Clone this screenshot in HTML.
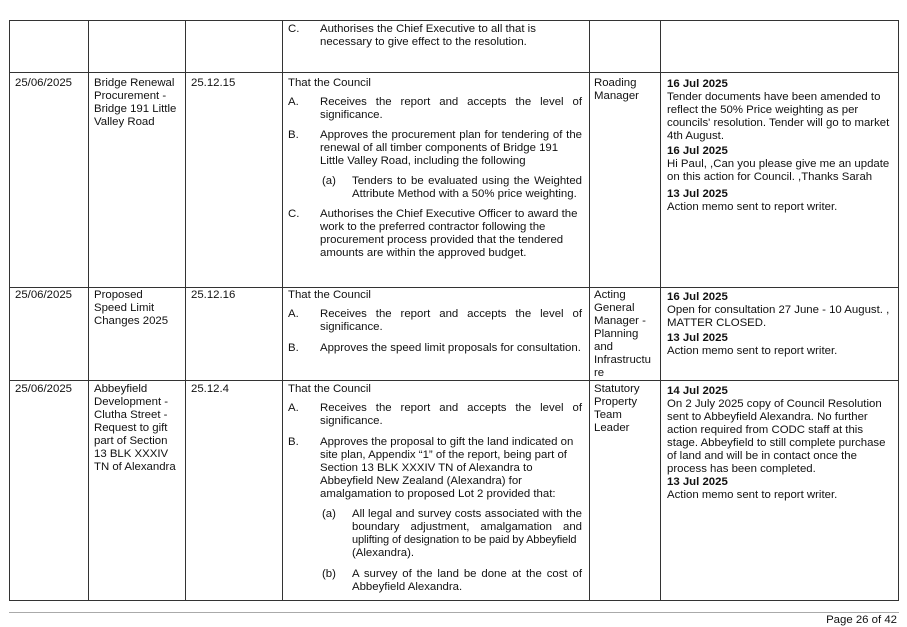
<!DOCTYPE html>
<html><head><meta charset="utf-8"><style>
body{margin:0;width:907px;height:626px;background:#fff;position:relative;overflow:hidden;font-family:"Liberation Sans",Arial,sans-serif;font-size:11.4px;color:#111}
.l{position:absolute;height:1px;background:#333}
.v{position:absolute;width:1px;background:#333}
.t{position:absolute;line-height:13px;white-space:nowrap}
.j{position:absolute;line-height:13px;height:13px;text-align:justify;text-align-last:justify;white-space:normal}
b{font-weight:bold}
</style></head><body>
<div class="l" style="left:9px;top:20px;width:890px"></div>
<div class="l" style="left:9px;top:72px;width:890px"></div>
<div class="l" style="left:9px;top:287px;width:890px"></div>
<div class="l" style="left:9px;top:380px;width:890px"></div>
<div class="l" style="left:9px;top:600px;width:890px"></div>
<div class="v" style="left:9px;top:20px;height:581px"></div>
<div class="v" style="left:88px;top:20px;height:581px"></div>
<div class="v" style="left:185px;top:20px;height:581px"></div>
<div class="v" style="left:282px;top:20px;height:581px"></div>
<div class="v" style="left:589px;top:20px;height:581px"></div>
<div class="v" style="left:660px;top:20px;height:581px"></div>
<div class="v" style="left:898px;top:20px;height:581px"></div>
<div class="l" style="left:9px;top:612px;width:890px;background:#aaa"></div>
<div class="t" style="right:10px;top:614px">Page 26 of 42</div>

<div class="t" style="left:288px;top:23px">C.</div>
<div class="t" style="left:320px;top:23px">Authorises the Chief Executive to all that is<br>necessary to give effect to the resolution.</div>

<div class="t" style="left:15px;top:77px">25/06/2025</div>
<div class="t" style="left:94px;top:77px">Bridge Renewal<br>Procurement -<br>Bridge 191 Little<br>Valley Road</div>
<div class="t" style="left:191px;top:77px">25.12.15</div>
<div class="t" style="left:288px;top:77px">That the Council</div>
<div class="t" style="left:288px;top:96px">A.</div>
<div class="j" style="left:320px;top:96px;width:262px">Receives the report and accepts the level of</div>
<div class="t" style="left:320px;top:109px">significance.</div>
<div class="t" style="left:288px;top:129px">B.</div>
<div class="j" style="left:320px;top:129px;width:262px">Approves the procurement plan for tendering of the</div>
<div class="t" style="left:320px;top:142px">renewal of all timber components of Bridge 191<br>Little Valley Road, including the following</div>
<div class="t" style="left:322px;top:175px">(a)</div>
<div class="j" style="left:352px;top:175px;width:230px">Tenders to be evaluated using the Weighted</div>
<div class="t" style="left:352px;top:188px">Attribute Method with a 50% price weighting.</div>
<div class="t" style="left:288px;top:208px">C.</div>
<div class="t" style="left:320px;top:208px">Authorises the Chief Executive Officer to award the<br>work to the preferred contractor following the<br>procurement process provided that the tendered<br>amounts are within the approved budget.</div>
<div class="t" style="left:594px;top:77px">Roading<br>Manager</div>
<div class="t" style="left:667px;top:78px"><b>16 Jul 2025</b><br>Tender documents have been amended to<br>reflect the 50% Price weighting as per<br>councils' resolution. Tender will go to market<br>4th August.</div>
<div class="t" style="left:667px;top:145px"><b>16 Jul 2025</b><br>Hi Paul, ,Can you please give me an update<br>on this action for Council. ,Thanks Sarah</div>
<div class="t" style="left:667px;top:188px"><b>13 Jul 2025</b><br>Action memo sent to report writer.</div>

<div class="t" style="left:15px;top:289px">25/06/2025</div>
<div class="t" style="left:94px;top:289px">Proposed<br>Speed Limit<br>Changes 2025</div>
<div class="t" style="left:191px;top:289px">25.12.16</div>
<div class="t" style="left:288px;top:289px">That the Council</div>
<div class="t" style="left:288px;top:308px">A.</div>
<div class="j" style="left:320px;top:308px;width:262px">Receives the report and accepts the level of</div>
<div class="t" style="left:320px;top:321px">significance.</div>
<div class="t" style="left:288px;top:342px">B.</div>
<div class="t" style="left:320px;top:342px">Approves the speed limit proposals for consultation.</div>
<div class="t" style="left:594px;top:289px">Acting<br>General<br>Manager -<br>Planning<br>and<br>Infrastructu<br>re</div>
<div class="t" style="left:667px;top:291px"><b>16 Jul 2025</b><br>Open for consultation 27 June - 10 August. ,<br>MATTER CLOSED.</div>
<div class="t" style="left:667px;top:332px"><b>13 Jul 2025</b><br>Action memo sent to report writer.</div>

<div class="t" style="left:15px;top:383px">25/06/2025</div>
<div class="t" style="left:94px;top:383px">Abbeyfield<br>Development -<br>Clutha Street -<br>Request to gift<br>part of Section<br>13 BLK XXXIV<br>TN of Alexandra</div>
<div class="t" style="left:191px;top:383px">25.12.4</div>
<div class="t" style="left:288px;top:383px">That the Council</div>
<div class="t" style="left:288px;top:402px">A.</div>
<div class="j" style="left:320px;top:402px;width:262px">Receives the report and accepts the level of</div>
<div class="t" style="left:320px;top:415px">significance.</div>
<div class="t" style="left:288px;top:436px">B.</div>
<div class="t" style="left:320px;top:436px">Approves the proposal to gift the land indicated on<br>site plan, Appendix “1” of the report, being part of<br>Section 13 BLK XXXIV TN of Alexandra to<br>Abbeyfield New Zealand (Alexandra) for<br>amalgamation to proposed Lot 2 provided that:</div>
<div class="t" style="left:322px;top:508px">(a)</div>
<div class="j" style="left:352px;top:508px;width:230px">All legal and survey costs associated with the</div>
<div class="j" style="left:352px;top:521px;width:230px">boundary adjustment, amalgamation and</div>
<div class="t" style="left:352px;top:534px;font-size:11px;letter-spacing:-0.1px">uplifting of designation to be paid by Abbeyfield</div>
<div class="t" style="left:352px;top:547px">(Alexandra).</div>
<div class="t" style="left:322px;top:568px">(b)</div>
<div class="j" style="left:352px;top:568px;width:230px">A survey of the land be done at the cost of</div>
<div class="t" style="left:352px;top:581px">Abbeyfield Alexandra.</div>
<div class="t" style="left:594px;top:383px">Statutory<br>Property<br>Team<br>Leader</div>
<div class="t" style="left:667px;top:385px"><b>14 Jul 2025</b><br>On 2 July 2025 copy of Council Resolution<br>sent to Abbeyfield Alexandra. No further<br>action required from CODC staff at this<br>stage. Abbeyfield to still complete purchase<br>of land and will be in contact once the<br>process has been completed.<br><b>13 Jul 2025</b><br>Action memo sent to report writer.</div>
</body></html>
